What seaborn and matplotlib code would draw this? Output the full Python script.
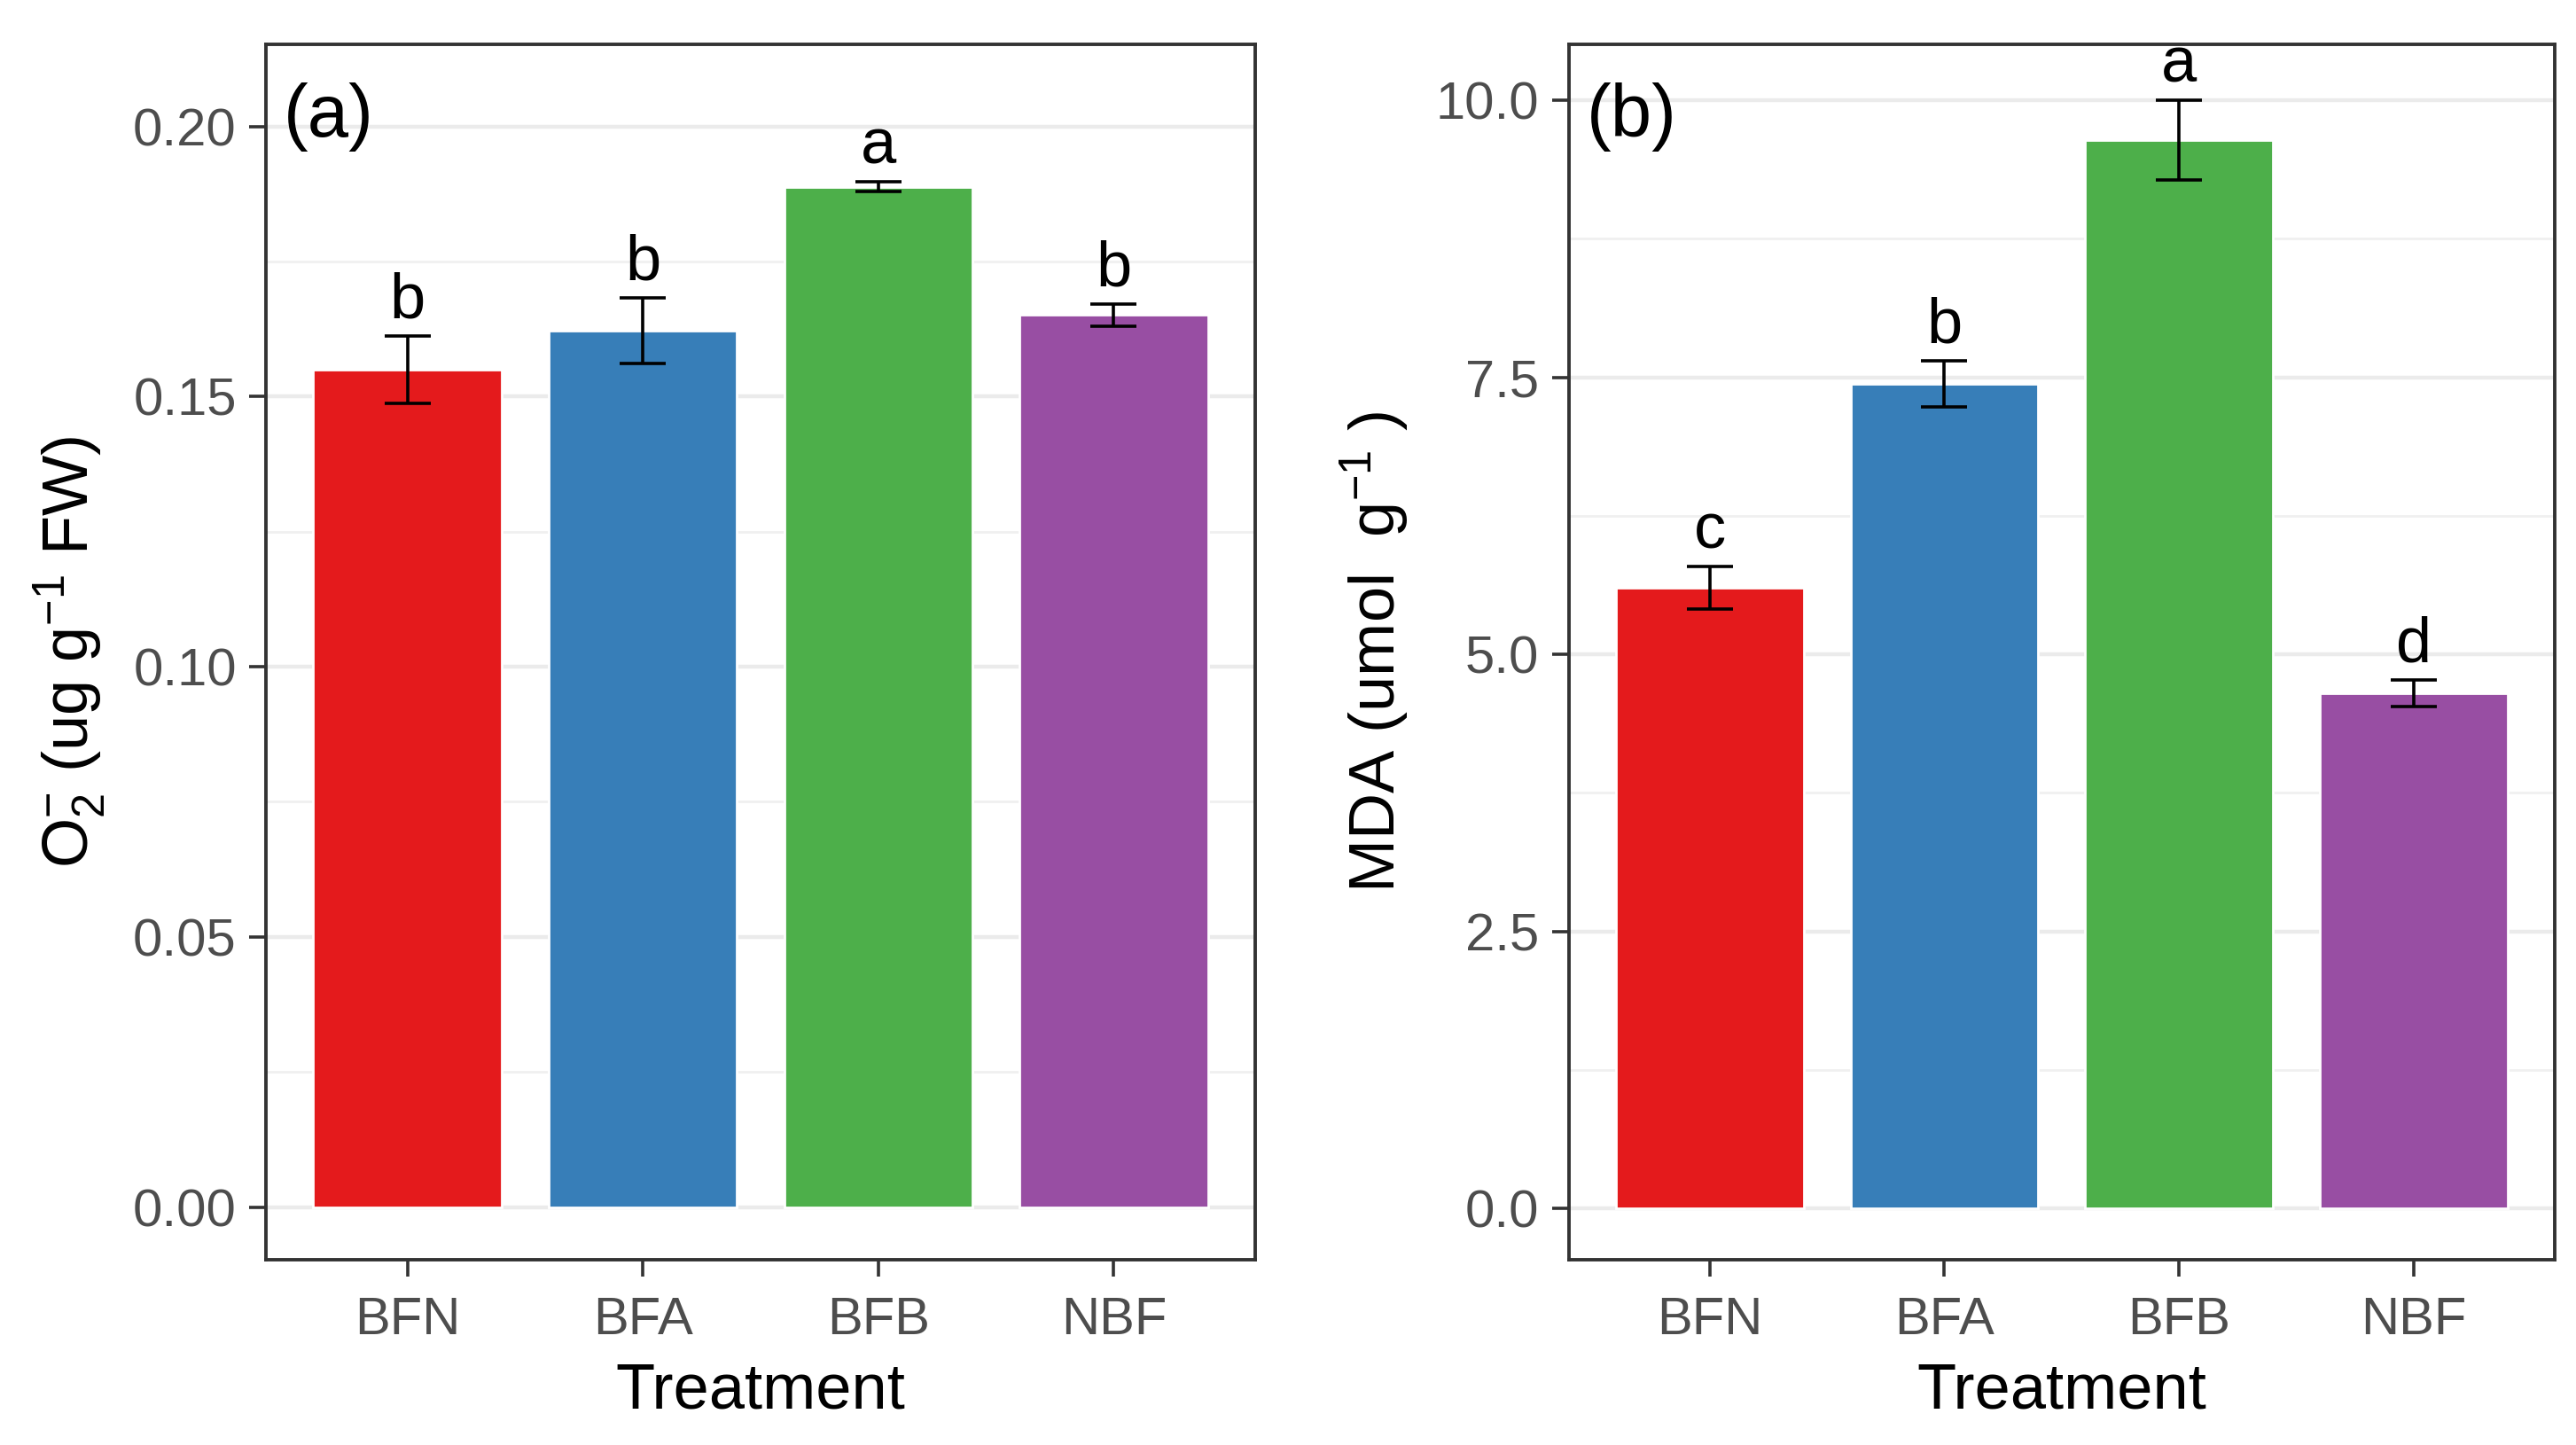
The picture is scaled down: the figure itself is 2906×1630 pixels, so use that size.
import numpy as np
import pandas as pd
import seaborn as sns
import matplotlib.pyplot as plt
from matplotlib.ticker import MultipleLocator

# Datos
tratamientos = ['BFN', 'BFA', 'BFB', 'NBF']
colores = ['#E41A1C', '#377EB8', '#4DAF4A', '#984EA3']

o2_media = [0.155, 0.1622, 0.1888, 0.1651]
o2_se = [0.0062, 0.0061, 0.0009, 0.0021]
o2_letras = ['b', 'b', 'a', 'b']

mda_media = [5.60, 7.44, 9.64, 4.65]
mda_se = [0.19, 0.21, 0.36, 0.12]
mda_letras = ['c', 'b', 'a', 'd']

sns.set_theme(style='white')
plt.rcParams['font.family'] = ['Liberation Sans', 'DejaVu Sans']
plt.rcParams['mathtext.fontset'] = 'custom'
plt.rcParams['mathtext.rm'] = 'Liberation Sans'
plt.rcParams['mathtext.it'] = 'Liberation Sans'

fig = plt.figure(figsize=(14.53, 8.15), dpi=200)
ax1 = fig.add_axes([0.1033, 0.1284, 0.3839, 0.8409])
ax2 = fig.add_axes([0.609, 0.1284, 0.3827, 0.8409])


def panel(ax, media, se, letras, etiqueta, ylabel, ylim, mayor, menor, fmt):
    df = pd.DataFrame({'Treatment': tratamientos, 'valor': media})
    ax.set_axisbelow(True)
    ax.yaxis.set_major_locator(MultipleLocator(mayor))
    ax.yaxis.set_minor_locator(MultipleLocator(menor))
    ax.grid(which='major', axis='both', color='#EBEBEB', linewidth=1.6)
    ax.grid(which='minor', axis='y', color='#F0F0F0', linewidth=1.0)
    sns.barplot(data=df, x='Treatment', y='valor', hue='Treatment',
                palette=colores, saturation=1, width=0.8, legend=False, ax=ax)
    ax.errorbar(range(len(tratamientos)), media, yerr=se, fmt='none',
                ecolor='black', elinewidth=1.3, capsize=9.5, capthick=1.3, zorder=5)
    for i, (m, s, l) in enumerate(zip(media, se, letras)):
        ax.annotate(l, (i, m + s), xytext=(0, 2), textcoords='offset points',
                    ha='center', va='bottom', fontsize=26, color='black')
    ax.text(0.018, 0.94, etiqueta, transform=ax.transAxes, ha='left', va='center',
            fontsize=30, color='black')
    ax.set_xlim(-0.6, 3.6)
    ax.set_ylim(*ylim)
    ax.yaxis.set_major_formatter(plt.FormatStrFormatter(fmt))
    ax.set_xlabel('Treatment', fontsize=26, color='black', labelpad=7)
    ax.set_ylabel(ylabel, fontsize=26, color='black', labelpad=10)
    ax.tick_params(axis='both', which='major', length=7, width=1.3, color='#333333',
                   labelsize=21.5, labelcolor='#4D4D4D', pad=5, left=True, bottom=True)
    ax.tick_params(axis='x', which='major', pad=8)
    ax.tick_params(axis='y', which='minor', length=0)
    for sp in ax.spines.values():
        sp.set_visible(True)
        sp.set_color('#333333')
        sp.set_linewidth(1.4)


panel(ax1, o2_media, o2_se, o2_letras, '(a)',
      r'O$_2^{\mathregular{-}}$ (ug g$^{\mathregular{-1}}$ FW)',
      (-0.0097, 0.2152), 0.05, 0.025, '%.2f')
panel(ax2, mda_media, mda_se, mda_letras, '(b)',
      r'MDA (umol  g$^{\mathregular{-1}}$ )',
      (-0.459, 10.504), 2.5, 1.25, '%.1f')

plt.savefig('out.png', dpi=200)
